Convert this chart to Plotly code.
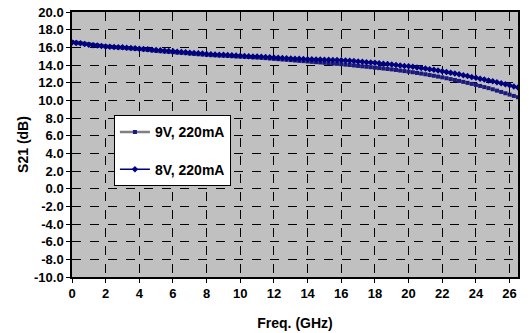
import numpy as np
import plotly.graph_objects as go

freq_ghz = [round(0.25 * i, 2) for i in range(107)]  # 0 .. 26.5 GHz

s21_8v = [16.55, 16.50, 16.45, 16.38, 16.30, 16.25, 16.20, 16.15, 16.10, 16.08, 16.05, 16.02,
          16.00, 15.96, 15.92, 15.89, 15.85, 15.81, 15.78, 15.74, 15.70, 15.66, 15.62, 15.59,
          15.55, 15.51, 15.47, 15.44, 15.40, 15.36, 15.32, 15.29, 15.25, 15.22, 15.20, 15.17,
          15.15, 15.12, 15.10, 15.07, 15.05, 15.02, 15.00, 14.97, 14.95, 14.92, 14.90, 14.87,
          14.85, 14.82, 14.80, 14.77, 14.75, 14.72, 14.70, 14.67, 14.65, 14.64, 14.62, 14.61,
          14.60, 14.59, 14.57, 14.56, 14.55, 14.51, 14.47, 14.44, 14.40, 14.36, 14.32, 14.29,
          14.25, 14.20, 14.15, 14.10, 14.05, 14.00, 13.95, 13.90, 13.85, 13.79, 13.72, 13.66,
          13.60, 13.53, 13.45, 13.38, 13.30, 13.21, 13.12, 13.04, 12.95, 12.85, 12.75, 12.65,
          12.55, 12.45, 12.35, 12.25, 12.15, 12.04, 11.93, 11.81, 11.70, 11.58, 11.45]

s21_9v = [16.60, 16.54, 16.48, 16.41, 16.35, 16.29, 16.22, 16.16, 16.10, 16.06, 16.02, 15.99,
          15.95, 15.91, 15.88, 15.84, 15.80, 15.75, 15.70, 15.65, 15.60, 15.56, 15.52, 15.49,
          15.45, 15.41, 15.37, 15.34, 15.30, 15.26, 15.22, 15.19, 15.15, 15.12, 15.10, 15.07,
          15.05, 15.02, 15.00, 14.97, 14.95, 14.92, 14.90, 14.87, 14.85, 14.81, 14.78, 14.74,
          14.70, 14.66, 14.62, 14.59, 14.55, 14.51, 14.47, 14.44, 14.40, 14.36, 14.32, 14.29,
          14.25, 14.21, 14.17, 14.14, 14.10, 14.05, 14.00, 13.95, 13.90, 13.85, 13.80, 13.75,
          13.70, 13.65, 13.60, 13.55, 13.50, 13.44, 13.37, 13.31, 13.25, 13.18, 13.10, 13.03,
          12.95, 12.86, 12.78, 12.69, 12.60, 12.50, 12.40, 12.30, 12.20, 12.09, 11.98, 11.86,
          11.75, 11.63, 11.50, 11.38, 11.25, 11.10, 10.95, 10.80, 10.65, 10.50, 10.35]

x_ticks = list(range(0, 27, 2))
y_ticks = list(range(-10, 21, 2))
y_tick_labels = [f"{v:.1f}" for v in y_ticks]

FONT = "Liberation Sans, Arial, sans-serif"

fig = go.Figure()
fig.add_trace(go.Scatter(
    x=freq_ghz, y=s21_9v, name="<b>9V, 220mA</b>", mode="lines+markers",
    line=dict(color="#808080", width=2.5),
    marker=dict(symbol="square", size=4, color="#1a1a80"),
    legendgroup="a"))
fig.add_trace(go.Scatter(
    x=freq_ghz, y=s21_8v, name="<b>8V, 220mA</b>", mode="lines+markers",
    line=dict(color="#000080", width=1.5),
    marker=dict(symbol="diamond", size=5, color="#000080"),
    legendgroup="b"))

axis_common = dict(
    showline=True, linecolor="black", linewidth=1.5, mirror=True,
    showgrid=True, gridcolor="black", gridwidth=1, griddash="dash",
    zeroline=False, ticks="outside", ticklen=4, tickcolor="black",
    tickfont=dict(family=FONT, size=13, color="black"),
    automargin=False,
)

fig.update_xaxes(range=[0, 26.5], tickvals=x_ticks,
                 ticktext=[f"<b>{v}</b>" for v in x_ticks],
                 title=dict(text="<b>Freq. (GHz)</b>", font=dict(family=FONT, size=14, color="black"),
                            standoff=18),
                 **axis_common)
fig.update_yaxes(range=[-10, 20], tickvals=y_ticks,
                 ticktext=[f"<b>{t}</b>" for t in y_tick_labels],
                 title=dict(text="<b>S21 (dB)</b>", font=dict(family=FONT, size=14, color="black"),
                            standoff=2),
                 **axis_common)

fig.update_layout(
    width=529, height=333,
    margin=dict(l=72, r=11, t=12, b=56),
    plot_bgcolor="#C0C0C0", paper_bgcolor="white",
    font=dict(family=FONT, color="black"),
    legend=dict(x=0.094, y=0.61, xanchor="left", yanchor="top",
                bgcolor="white", bordercolor="black", borderwidth=1,
                font=dict(family=FONT, size=14, color="black"),
                tracegroupgap=16, traceorder="grouped"),
)

fig.write_html("out.html")
